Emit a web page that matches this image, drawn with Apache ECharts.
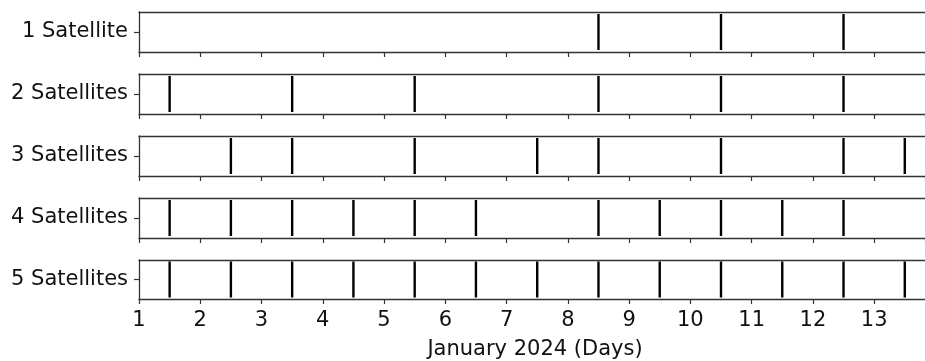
<!DOCTYPE html>
<html>
<head>
<meta charset="utf-8">
<script src="https://cdn.jsdelivr.net/npm/echarts@6/dist/echarts.min.js"></script>
<style>html,body{margin:0;padding:0;background:#fff}#c{width:925px;height:361px}</style>
</head>
<body>
<div id="c"></div>
<script>
const categories = ['1 Satellite', '2 Satellites', '3 Satellites', '4 Satellites', '5 Satellites'];
const sat1 = [8.5, 10.5, 12.5];
const sat2 = [1.5, 3.5, 5.5, 8.5, 10.5, 12.5];
const sat3 = [2.5, 3.5, 5.5, 7.5, 8.5, 10.5, 12.5, 13.5];
const sat4 = [1.5, 2.5, 3.5, 4.5, 5.5, 6.5, 8.5, 9.5, 10.5, 11.5, 12.5];
const sat5 = [1.5, 2.5, 3.5, 4.5, 5.5, 6.5, 7.5, 8.5, 9.5, 10.5, 11.5, 12.5, 13.5];
const xMin = 1, xMax = 13.83, xInterval = 1;
const xTitle = 'January 2024 (Days)';

const rows = [sat1, sat2, sat3, sat4, sat5];
const FONT = 'DejaVu Sans';
const TXT = '#111';
const FRAME = '#333';

const grid = [], xAxis = [], yAxis = [], series = [];
rows.forEach((vals, i) => {
  const last = i === rows.length - 1;
  grid.push({left: 139, right: 0, top: 12 + 62 * i, height: 40, show: false});
  // bottom axis
  xAxis.push({type: 'value', gridIndex: i, position: 'bottom', min: xMin, max: xMax, interval: xInterval,
    axisLine: {show: true, onZero: false, lineStyle: {color: FRAME, width: 1.3}},
    axisTick: {show: true, length: 5, lineStyle: {color: FRAME, width: 1.2}},
    splitLine: {show: false},
    axisLabel: {show: last, showMaxLabel: false, margin: 11, fontFamily: FONT, fontSize: 21, color: TXT},
    name: last ? xTitle : '', nameLocation: 'middle', nameGap: 40,
    nameTextStyle: {fontFamily: FONT, fontSize: 21, color: TXT, padding: [0, 0, 0, 6]}});
  // top frame line
  xAxis.push({type: 'value', gridIndex: i, position: 'top', min: xMin, max: xMax, interval: xInterval,
    axisLine: {show: true, onZero: false, lineStyle: {color: FRAME, width: 1.3}},
    axisTick: {show: false}, axisLabel: {show: false}, splitLine: {show: false}});
  yAxis.push({type: 'category', gridIndex: i, data: [categories[i]],
    axisLine: {show: true, lineStyle: {color: FRAME, width: 1.3}},
    axisTick: {show: true, length: 5, alignWithLabel: true, lineStyle: {color: FRAME, width: 1.2}},
    axisLabel: {margin: 11, padding: [7, 0, 0, 0], fontFamily: FONT, fontSize: 21, color: TXT},
    splitLine: {show: false}});
  series.push({type: 'scatter', xAxisIndex: 2 * i, yAxisIndex: i, symbol: 'rect',
    symbolSize: [2.4, 36], itemStyle: {color: '#000', opacity: 1}, silent: true, animation: false,
    data: vals.map(v => [v, categories[i]])});
});

const chart = echarts.init(document.getElementById('c'), null, {renderer: 'canvas'});
chart.setOption({backgroundColor: '#fff', animation: false, grid, xAxis, yAxis, series});
</script>
</body>
</html>
